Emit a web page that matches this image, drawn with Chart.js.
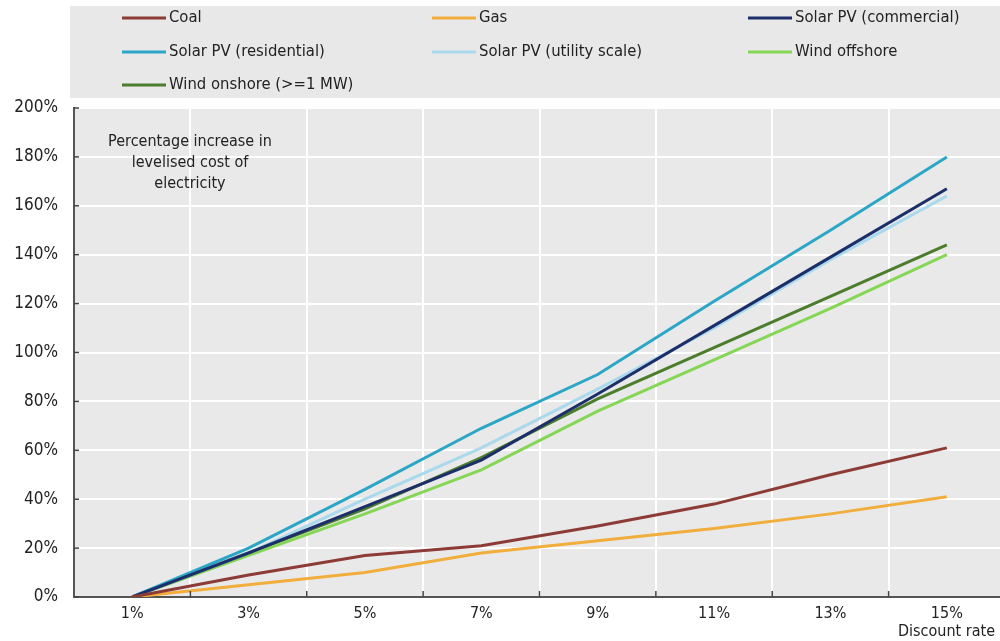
<!DOCTYPE html>
<html>
<head>
<meta charset="utf-8">
<script src="https://cdn.jsdelivr.net/npm/chart.js@4"></script>
<style>
  html, body { margin: 0; padding: 0; background: #fff; overflow: hidden; }
  #wrap { width: 1008px; height: 641px; }
</style>
</head>
<body>
<div id="wrap"><canvas id="lcoeChart" width="1008" height="641"></canvas></div>
<script>
const discountRates = ["1%", "3%", "5%", "7%", "9%", "11%", "13%", "15%"];
const yTicks = [0, 20, 40, 60, 80, 100, 120, 140, 160, 180, 200];

const coal = [0, 9, 17, 21, 29, 38, 50, 61];
const gas = [0, 5, 10, 18, 23, 28, 34, 41];
const solarCommercial = [0, 18, 37, 56, 83, 111, 139, 167];
const solarResidential = [0, 20, 44, 69, 91, 121, 150, 180];
const solarUtility = [0, 18, 40, 61, 85, 110, 138, 164];
const windOffshore = [0, 17, 34, 52, 76, 97, 118, 140];
const windOnshore = [0, 18, 36, 57, 81, 102, 123, 144];

const FONT = "'DejaVu Sans Condensed', 'Liberation Sans', sans-serif";

const series = [
  { label: "Coal", data: coal, color: "#8c3b36" },
  { label: "Gas", data: gas, color: "#f1ae3d" },
  { label: "Solar PV (commercial)", data: solarCommercial, color: "#1c2f6a" },
  { label: "Solar PV (residential)", data: solarResidential, color: "#2ba6c6" },
  { label: "Solar PV (utility scale)", data: solarUtility, color: "#a9d9ec" },
  { label: "Wind offshore", data: windOffshore, color: "#86d656" },
  { label: "Wind onshore (>=1 MW)", data: windOnshore, color: "#4b7d2c" }
];

// legend slots: line start x per column, y per row
const legendCols = [122, 432, 748];
const legendRows = [18, 52, 85];

const extras = {
  id: "extras",
  beforeDraw(chart) {
    const ctx = chart.ctx;
    const a = chart.chartArea;
    ctx.save();
    // legend box
    ctx.fillStyle = "#e8e8e8";
    ctx.fillRect(70, 6, 940, 92);
    // plot background
    ctx.fillStyle = "#e9e9e9";
    ctx.fillRect(a.left, a.top, a.right - a.left, a.bottom - a.top);
    ctx.restore();
  },
  afterDraw(chart) {
    const ctx = chart.ctx;
    const a = chart.chartArea;
    const x = chart.scales.x;
    const y = chart.scales.y;
    ctx.save();

    // legend
    ctx.font = "16.5px " + FONT;
    ctx.textBaseline = "middle";
    ctx.textAlign = "left";
    series.forEach((s, i) => {
      const lx = legendCols[i % 3];
      const ly = legendRows[Math.floor(i / 3)];
      ctx.strokeStyle = s.color;
      ctx.lineWidth = 3;
      ctx.beginPath();
      ctx.moveTo(lx, ly);
      ctx.lineTo(lx + 44, ly);
      ctx.stroke();
      ctx.fillStyle = "#222";
      ctx.fillText(s.label, lx + 47, ly);
    });

    // small inner tick marks
    ctx.strokeStyle = "#444";
    ctx.lineWidth = 1.5;
    yTicks.forEach(v => {
      const py = y.getPixelForValue(v);
      ctx.beginPath();
      ctx.moveTo(a.left, py);
      ctx.lineTo(a.left + 5, py);
      ctx.stroke();
    });
    for (let i = 1; i < discountRates.length; i++) {
      const px = (x.getPixelForValue(i - 1) + x.getPixelForValue(i)) / 2;
      ctx.beginPath();
      ctx.moveTo(px, a.bottom);
      ctx.lineTo(px, a.bottom - 6);
      ctx.stroke();
    }

    // annotation
    ctx.fillStyle = "#222";
    ctx.textAlign = "center";
    ctx.font = "16px " + FONT;
    ctx.fillText("Percentage increase in", 190, 142);
    ctx.fillText("levelised cost of", 190, 163);
    ctx.fillText("electricity", 190, 184);

    // axis title
    ctx.textAlign = "left";
    ctx.font = "16px " + FONT;
    ctx.fillText("Discount rate", 898, 632);
    ctx.restore();
  }
};

new Chart(document.getElementById("lcoeChart"), {
  type: "line",
  data: {
    labels: discountRates,
    datasets: series.map(s => ({
      label: s.label,
      data: s.data,
      borderColor: s.color,
      backgroundColor: s.color,
      borderWidth: 3,
      pointRadius: 0,
      tension: 0,
      fill: false
    }))
  },
  options: {
    responsive: false,
    animation: false,
    layout: { padding: { top: 108, right: 3, left: 0, bottom: 0 } },
    plugins: {
      legend: { display: false },
      tooltip: { enabled: false }
    },
    scales: {
      x: {
        offset: true,
        afterFit(scale) { scale.height = 44; },
        grid: { offset: true, color: "#ffffff", lineWidth: 2, drawTicks: false },
        border: { display: true, color: "#555", width: 2 },
        ticks: { color: "#222", padding: 7, font: { family: FONT, size: 16 } }
      },
      y: {
        min: 0,
        max: 200,
        afterFit(scale) { scale.width = 74; },
        afterBuildTicks(scale) { scale.ticks = yTicks.map(v => ({ value: v })); },
        grid: { color: "#ffffff", lineWidth: 2, drawTicks: false },
        border: { display: true, color: "#555", width: 2 },
        ticks: {
          color: "#222",
          padding: 16,
          font: { family: FONT, size: 17 },
          callback: v => v + "%"
        }
      }
    }
  },
  plugins: [extras]
});
</script>
</body>
</html>
